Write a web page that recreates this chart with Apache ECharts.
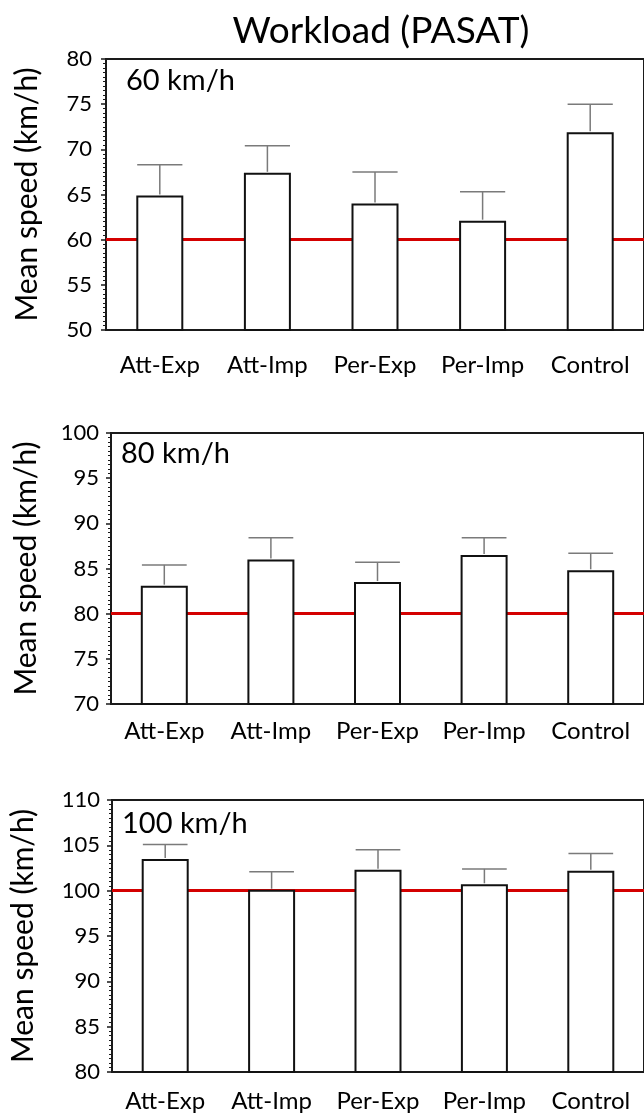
<!DOCTYPE html>
<html>
<head>
<meta charset="utf-8">
<script src="https://cdn.jsdelivr.net/npm/echarts@6/dist/echarts.min.js"></script>
<style>
html,body{margin:0;padding:0;background:#fff;}
#chart{width:644px;height:1116px;}
</style>
</head>
<body>
<div id="chart"></div>
<script>
var categories = ['Att-Exp', 'Att-Imp', 'Per-Exp', 'Per-Imp', 'Control'];
var chartTitle = 'Workload (PASAT)';
var yAxisName = 'Mean speed (km/h)';
var panelLabels = ['60 km/h', '80 km/h', '100 km/h'];
var speedLimits = [60, 80, 100];
var yMins = [50, 70, 80];
var yMaxs = [80, 100, 110];

var mean60 = [64.9, 67.4, 64.0, 62.1, 71.9];
var upper60 = [68.3, 70.4, 67.5, 65.3, 75.0];
var mean80 = [83.1, 86.0, 83.5, 86.5, 84.8];
var upper80 = [85.4, 88.4, 85.7, 88.4, 86.7];
var mean100 = [103.5, 100.1, 102.3, 100.7, 102.2];
var upper100 = [105.1, 102.1, 104.5, 102.4, 104.1];

var means = [mean60, mean80, mean100];
var uppers = [upper60, upper80, upper100];

var FONT = 'Lato';
var grids = [
  {left: 106, top: 59, height: 271, right: -3},
  {left: 111, top: 433, height: 271, right: -3},
  {left: 112, top: 800, height: 272, right: -3}
];
var xLabelMargins = [23, 15, 17];
var yLabelMargins = [14, 12, 12];
var nameGaps = [64, 70, 74];
var panelLabelPos = [[126, 66], [121, 439], [122, 809]];

var chart = echarts.init(document.getElementById('chart'), null, {renderer: 'canvas'});

var option = {
  animation: false,
  backgroundColor: '#ffffff',
  title: [{
    text: chartTitle, left: 381, top: 13, textAlign: 'center', padding: 0,
    textStyle: {fontFamily: FONT, fontSize: 37, fontWeight: 'normal', color: '#000'}
  }].concat(panelLabels.map(function (t, i) {
    return {text: t, left: panelLabelPos[i][0], top: panelLabelPos[i][1], padding: 0,
      textStyle: {fontFamily: FONT, fontSize: 29, fontWeight: 'normal', color: '#000'}};
  })),
  grid: grids.map(function (g) {
    return Object.assign({show: true, borderColor: '#1a1a1a', borderWidth: 2, backgroundColor: 'transparent'}, g);
  }),
  xAxis: grids.map(function (g, i) {
    return {
      type: 'category', gridIndex: i, data: categories,
      axisLine: {show: true, lineStyle: {color: '#1a1a1a', width: 2}},
      axisTick: {show: false},
      axisLabel: {fontFamily: FONT, fontSize: 24, color: '#000', margin: xLabelMargins[i], interval: 0},
      splitLine: {show: false}
    };
  }),
  yAxis: grids.map(function (g, i) {
    return {
      type: 'value', gridIndex: i, min: yMins[i], max: yMaxs[i], interval: 5,
      name: yAxisName, nameLocation: 'middle', nameGap: nameGaps[i],
      nameTextStyle: {fontFamily: FONT, fontSize: 30, color: '#000'},
      axisLine: {show: true, lineStyle: {color: '#1a1a1a', width: 2}},
      axisTick: {show: true, inside: false, length: 5, lineStyle: {color: '#1a1a1a', width: 1.5}},
      minorTick: {show: true, splitNumber: 10, length: 3, lineStyle: {color: '#1a1a1a', width: 1}},
      axisLabel: {fontFamily: FONT, fontSize: 22, color: '#000', margin: yLabelMargins[i]},
      splitLine: {show: false}
    };
  }),
  series: []
};

grids.forEach(function (g, i) {
  option.series.push({
    type: 'line', xAxisIndex: i, yAxisIndex: i, data: [], z: 1, silent: true,
    markLine: {
      z: 1, silent: true, symbol: ['none', 'none'], label: {show: false},
      lineStyle: {color: '#d40000', width: 3, type: 'solid'},
      data: [{yAxis: speedLimits[i]}]
    }
  });
  option.series.push({
    type: 'bar', xAxisIndex: i, yAxisIndex: i, data: means[i], barWidth: 47, z: 3,
    itemStyle: {color: '#ffffff', borderColor: '#111', borderWidth: 2}
  });
  option.series.push({
    type: 'custom', xAxisIndex: i, yAxisIndex: i, z: 4,
    data: means[i].map(function (m, k) { return [k, m, uppers[i][k]]; }),
    renderItem: function (params, api) {
      var base = api.coord([api.value(0), api.value(1)]);
      var top = api.coord([api.value(0), api.value(2)]);
      var half = api.size([1, 0])[0] * 0.21;
      var style = {stroke: '#7a7a7a', lineWidth: 1.5};
      return {type: 'group', children: [
        {type: 'line', shape: {x1: base[0], y1: base[1] - 1, x2: top[0], y2: top[1]}, style: style},
        {type: 'line', shape: {x1: top[0] - half, y1: top[1], x2: top[0] + half, y2: top[1]}, style: style}
      ]};
    }
  });
});

chart.setOption(option);
</script>
</body>
</html>
